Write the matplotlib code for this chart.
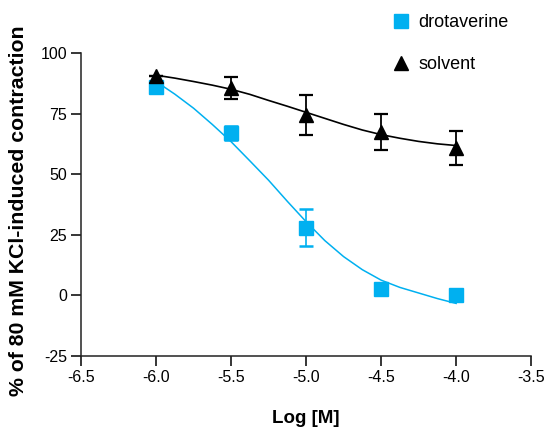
import numpy as np
import matplotlib
matplotlib.use("Agg")
import matplotlib.pyplot as plt

plt.rcParams.update({
    "font.family": ["Liberation Sans", "DejaVu Sans"],
    "font.size": 11.5,
})

# measured points (mean, SEM)
log_conc = [-6.0, -5.5, -5.0, -4.5, -4.0]
drot_mean = [86.0, 67.0, 28.0, 2.8, 0.0]
drot_err = [0.0, 3.0, 7.6, 0.0, 0.0]
solv_mean = [90.6, 85.5, 74.4, 67.4, 60.8]
solv_err = [0.0, 4.4, 8.1, 7.5, 7.1]

# fitted curves
fit_x = [-6.0, -5.875, -5.75, -5.625, -5.5, -5.375, -5.25, -5.125, -5.0,
         -4.875, -4.75, -4.625, -4.5, -4.375, -4.25, -4.125, -4.0]
drot_fit = [88.2, 83.0, 77.2, 70.5, 63.4, 55.5, 47.5, 38.8, 30.4,
            22.6, 16.0, 10.6, 6.3, 3.3, 1.0, -1.3, -3.3]
solv_fit = [90.8, 89.6, 88.2, 86.7, 85.0, 82.9, 80.4, 78.0, 75.5,
            73.0, 70.5, 68.2, 66.3, 64.8, 63.5, 62.5, 61.8]

xticks = [-6.5, -6.0, -5.5, -5.0, -4.5, -4.0, -3.5]
yticks = [-25, 0, 25, 50, 75, 100]

BLUE = "#00b0f0"

fig = plt.figure(figsize=(5.45, 4.30), dpi=100)
ax = fig.add_axes([0.1486, 0.172, 0.826, 0.705])

ax.plot(fit_x, drot_fit, color=BLUE, lw=1.1, zorder=2)
ax.plot(fit_x, solv_fit, color="black", lw=1.2, zorder=2)

ax.errorbar(log_conc, drot_mean, yerr=drot_err, fmt="s", ms=9.5,
            color=BLUE, ecolor=BLUE, elinewidth=1.2, capsize=5,
            capthick=1.8, zorder=3, label="drotaverine")
ax.errorbar(log_conc, solv_mean, yerr=solv_err, fmt="^", ms=10,
            color="black", ecolor="black", elinewidth=1.3, capsize=5,
            capthick=1.6, zorder=4, label="solvent")

ax.set_xlim(-6.5, -3.5)
ax.set_ylim(-25, 100)
ax.set_xticks(xticks)
ax.set_xticklabels([f"{v:.1f}" for v in xticks])
ax.set_yticks(yticks)
ax.set_yticklabels([str(v) for v in yticks])
ax.tick_params(direction="out", length=7, width=1.1, pad=3, labelsize=11.5)

for s in ["top", "right"]:
    ax.spines[s].set_visible(False)
for s in ["left", "bottom"]:
    ax.spines[s].set_linewidth(1.1)
    ax.spines[s].set_color("#222222")

ax.set_xlabel("Log [M]", fontsize=13.5, fontweight="bold", labelpad=18)
ax.set_ylabel("% of 80 mM KCl-induced contraction", fontsize=15.3,
              fontweight="bold")
ax.yaxis.set_label_coords(-0.118, 0.48)

handles, labels = ax.get_legend_handles_labels()
handles = [h[0] for h in handles]
leg = fig.legend(handles, labels, loc="upper left",
                 bbox_to_anchor=(0.692, 0.997), frameon=False, fontsize=13,
                 labelspacing=1.38, handletextpad=0.4, handlelength=1.2,
                 borderaxespad=0.3)

fig.savefig("out.png", dpi=100, facecolor="white")
